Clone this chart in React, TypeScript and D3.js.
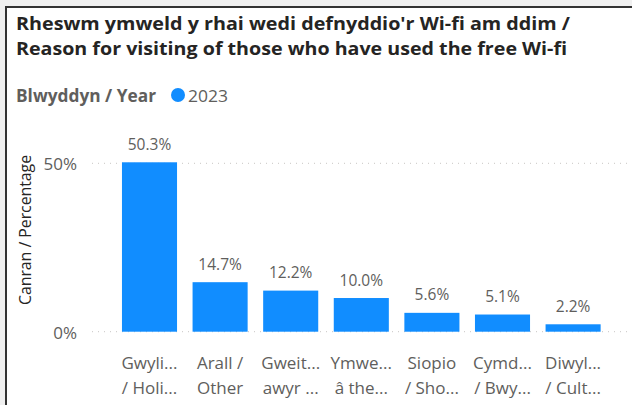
import React from "react";
import * as d3 from "d3";

const titleLines = [
  "Rheswm ymweld y rhai wedi defnyddio'r Wi-fi am ddim /",
  "Reason for visiting of those who have used the free Wi-fi",
];
const legendTitle = "Blwyddyn / Year";
const seriesName = "2023";
const categories = [
  ["Gwyli...", "/ Holi..."],
  ["Arall /", "Other"],
  ["Gweit...", "awyr ..."],
  ["Ymwe...", "â the..."],
  ["Siopio", "/ Sho..."],
  ["Cymd...", "/ Bwy..."],
  ["Diwyl...", "/ Cult..."],
];
const values = [50.3, 14.7, 12.2, 10.0, 5.6, 5.1, 2.2];
const yTicks = [0, 50];
const yAxisTitle = "Canran / Percentage";

const W = 632;
const H = 405;
const FONT = "'Segoe UI', 'Open Sans', 'Noto Sans', sans-serif";
const BLUE = "#118DFF";

export default function App() {
  const x = d3
    .scaleBand<number>()
    .domain(d3.range(values.length))
    .range([114.2, 608.4])
    .paddingInner(0.22)
    .paddingOuter(0.11);
  const y = d3.scaleLinear().domain([0, 50]).range([331.7, 163.3]);

  return (
    <svg
      width={W}
      height={H}
      style={{ position: "fixed", left: 0, top: 0 }}
      fontFamily={FONT}
    >
      <rect x={0} y={0} width={W} height={H} fill="#f0f0f0" />
      <rect x={6} y={7} width={W + 20} height={H + 20} fill="#fff" stroke="#333" strokeWidth={2} />
      {titleLines.map((t, i) => (
        <text
          key={i}
          x={16}
          y={30 + i * 25}
          fontSize={18.5}
          fontWeight={700}
          fill="#252423"
          textLength={i === 0 ? 554 : 551}
          lengthAdjust="spacingAndGlyphs"
        >
          {t}
        </text>
      ))}
      <text
        x={16}
        y={101.5}
        fontSize={17}
        fontWeight={700}
        fill="#605E5C"
        textLength={140}
        lengthAdjust="spacingAndGlyphs"
      >
        {legendTitle}
      </text>
      <circle cx={178} cy={95} r={7} fill={BLUE} />
      <text x={188} y={101.5} fontSize={17} fill="#605E5C" textLength={40} lengthAdjust="spacingAndGlyphs">
        {seriesName}
      </text>
      <text
        transform={`translate(31,230) rotate(-90)`}
        textAnchor="middle"
        fontSize={16}
        fill="#252423"
        textLength={150}
        lengthAdjust="spacingAndGlyphs"
      >
        {yAxisTitle}
      </text>
      {yTicks.map((t) => (
        <g key={t}>
          <line
            x1={92}
            x2={W}
            y1={y(t)}
            y2={y(t)}
            stroke="#c8c6c4"
            strokeWidth={1}
            strokeDasharray="1 5"
          />
          <text x={77} y={y(t) + 7} textAnchor="end" fontSize={17} fill="#605E5C">
            {t}%
          </text>
        </g>
      ))}
      {values.map((v, i) => (
        <g key={i}>
          <rect
            x={x(i)}
            y={y(v)}
            width={x.bandwidth()}
            height={y(0) - y(v)}
            fill={BLUE}
          />
          <text
            x={(x(i) as number) + x.bandwidth() / 2}
            y={y(v) - 12.5}
            textAnchor="middle"
            fontSize={15.5}
            fill="#605E5C"
          >
            {v.toFixed(1)}%
          </text>
          {categories[i].map((line, j) => (
            <text
              key={j}
              x={(x(i) as number) + x.bandwidth() / 2}
              y={368.5 + j * 25}
              textAnchor="middle"
              fontSize={17}
              fill="#605E5C"
            >
              {line}
            </text>
          ))}
        </g>
      ))}
    </svg>
  );
}
